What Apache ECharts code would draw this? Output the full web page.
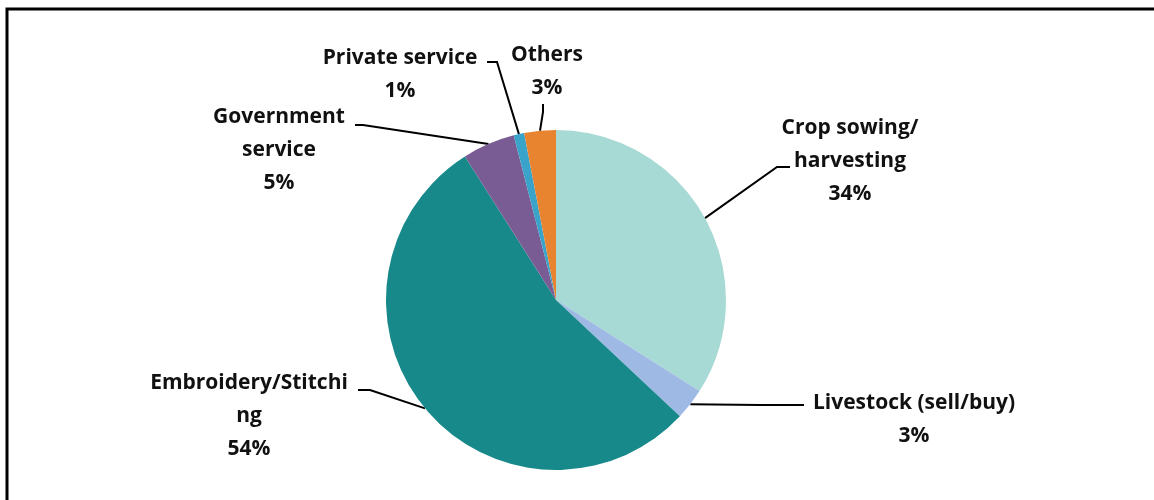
<!DOCTYPE html>
<html>
<head>
<meta charset="utf-8">
<script src="https://cdn.jsdelivr.net/npm/echarts@6/dist/echarts.min.js"></script>
<style>
  html, body { margin: 0; padding: 0; background: #fff; }
  #chart { width: 1154px; height: 500px; }
</style>
</head>
<body>
<div id="chart"></div>
<script>
// slices, clockwise from 12 o'clock
const names = ['Crop sowing/\nharvesting', 'Livestock (sell/buy)', 'Embroidery/Stitchi\nng', 'Government\nservice', 'Private service', 'Others']
const shares = [34, 3, 54, 5, 1, 3]
const colors = ['#a7d9d5', '#9fb9e5', '#18898a', '#7a5c95', '#3aa3c9', '#e8832f']

// label block centres and leader line bends (layout only)
const labelPos = [
  { x: 850, y: 161, bend: [[777, 167], [790, 167]] },
  { x: 914, y: 420, bend: [[760, 405], [804, 405]] },
  { x: 249, y: 416, bend: [[370, 390], [358, 390]] },
  { x: 279, y: 150, bend: [[363, 125], [355, 125]] },
  { x: 400, y: 75,  bend: [[497, 62], [487, 62]] },
  { x: 547, y: 72,  bend: [[543, 112], [543, 104]] }
]

const chart = echarts.init(document.getElementById('chart'))

chart.setOption({
  animation: false,
  graphic: [{
    type: 'rect',
    shape: { x: 7, y: 9, width: 1160, height: 520 },
    style: { fill: 'none', stroke: '#000', lineWidth: 3 }
  }],
  series: [{
    type: 'pie',
    center: [556, 300],
    radius: 170,
    startAngle: 90,
    clockwise: true,
    data: names.map((n, i) => ({ name: n, value: shares[i], itemStyle: { color: colors[i] } })),
    label: {
      show: true,
      position: 'outside',
      formatter: p => p.name + '\n' + p.value + '%',
      fontFamily: 'Open Sans',
      fontWeight: 'bold',
      fontSize: 21,
      lineHeight: 33,
      color: '#111',
      align: 'center'
    },
    labelLine: {
      show: true,
      length: 20,
      length2: 10,
      lineStyle: { color: '#000', width: 2 }
    },
    labelLayout: params => {
      const pos = labelPos[params.dataIndex]
      const start = params.labelLinePoints[0]
      return {
        x: pos.x,
        y: pos.y,
        align: 'center',
        verticalAlign: 'middle',
        labelLinePoints: [start, pos.bend[0], pos.bend[1]]
      }
    }
  }]
})
</script>
</body>
</html>
